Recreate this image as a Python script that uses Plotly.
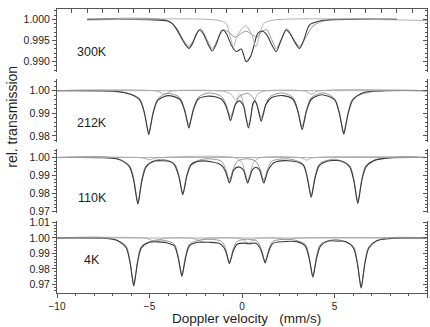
import plotly.graph_objects as go

# ---------------- data ----------------
panel_labels = ["300K", "212K", "110K", "4K"]

# 300K (its own velocity frame, about +-12 mm/s)
v300 = [-10.0, -6.0, -4.8, -4.45, -4.2, -3.9, -3.65, -3.43, -3.2, -2.95,
        -2.74, -2.5, -2.2, -1.92, -1.65, -1.42, -1.24, -1.0, -0.7, -0.37,
        -0.05, 0.27, 0.55, 0.75, 1.02, 1.34, 1.62, 1.92, 2.21, 2.5,
        2.85, 3.12, 3.42, 3.71, 3.98, 4.35, 5.0, 6.0, 10.0]
t300 = [1.0, 0.9999, 0.9996, 0.9988, 0.9975, 0.9955, 0.994, 0.99315, 0.9942, 0.9965,
        0.99747, 0.9966, 0.9942, 0.99252, 0.9942, 0.9966, 0.99747, 0.9966, 0.994, 0.9924,
        0.993, 0.99, 0.9912, 0.9935, 0.9967, 0.9972, 0.9962, 0.994, 0.9924, 0.9948,
        0.99747, 0.9965, 0.9945, 0.99315, 0.995, 0.99865, 0.9996, 0.9999, 1.0]
v300_sext = [-10, -4.8, -4.2, -3.8, -3.43, -3.06, -2.68, -2.3, -1.92, -1.54,
             -1.2, -0.8, -0.45, 0.25, 0.95, 1.3, 1.6, 1.92, 2.21, 2.55,
             2.9, 3.3, 3.71, 4.08, 4.6, 5.5, 10]
t300_sext = [1.0, 0.9997, 0.9978, 0.9952, 0.9937, 0.9955, 0.9978, 0.9955, 0.9931, 0.9955,
             0.9975, 0.9968, 0.9958, 0.9972, 0.9958, 0.9972, 0.9975, 0.9952, 0.9931, 0.9955,
             0.9978, 0.9955, 0.9937, 0.9955, 0.9985, 0.9998, 1.0]
v300_dbl = [-10, -1.6, -1.02, -0.8, -0.55, -0.3, 0.23, 0.65, 0.9, 1.15, 1.4, 2.0, 12]
t300_dbl = [0.9998, 0.9998, 0.999, 0.9965, 0.9935, 0.9962, 0.9985, 0.9962, 0.9935, 0.9965,
            0.999, 0.9998, 0.9997]

# 212K
v212 = [-10.0, -7.0, -6.5, -6.0, -5.54, -5.29, -5.15, -5.04, -4.93, -4.79,
        -4.54, -4.0, -3.37, -3.12, -2.98, -2.87, -2.76, -2.62, -2.37, -1.9,
        -1.4, -1.12, -0.87, -0.73, -0.62, -0.5, -0.35, -0.15, 0.07, 0.22,
        0.35, 0.47, 0.58, 0.69, 0.82, 0.93, 1.04, 1.15, 1.3, 1.6,
        2.2, 2.75, 3.0, 3.14, 3.25, 3.36, 3.5, 3.75, 4.3, 5.0,
        5.25, 5.39, 5.5, 5.61, 5.75, 6.0, 6.5, 7.5, 10.0]
t212 = [1.0, 0.9998, 0.9993, 0.9983, 0.996, 0.9905, 0.9848, 0.9806, 0.9848, 0.9905,
        0.9958, 0.9978, 0.9962, 0.9917, 0.987, 0.9835, 0.987, 0.9917, 0.9962, 0.9975,
        0.9972, 0.9963, 0.9932, 0.9895, 0.9868, 0.9898, 0.994, 0.9955, 0.9935, 0.9878,
        0.9835, 0.988, 0.994, 0.9955, 0.9935, 0.9895, 0.9865, 0.9895, 0.994, 0.997,
        0.9978, 0.9962, 0.9914, 0.9863, 0.9828, 0.9863, 0.9914, 0.9962, 0.9982, 0.996,
        0.9903, 0.9847, 0.9808, 0.9847, 0.9903, 0.996, 0.999, 0.9999, 1.0]
v212_a = [-10, -6.5, -5.54, -5.29, -5.04, -4.79, -4.54, -4.0, -3.37, -3.12,
          -2.87, -2.62, -2.37, -1.8, -1.12, -0.87, -0.62, -0.37, -0.12, 0.3,
          0.54, 0.79, 1.04, 1.29, 1.54, 2.2, 2.75, 3.0, 3.25, 3.5,
          3.75, 4.4, 5.0, 5.25, 5.5, 5.75, 6.0, 7.0, 10]
t212_a = [1.0, 0.9995, 0.9965, 0.991, 0.9815, 0.991, 0.9965, 0.9988, 0.997, 0.9922,
          0.9848, 0.9922, 0.997, 0.999, 0.9975, 0.994, 0.9885, 0.994, 0.9975, 0.9988,
          0.9975, 0.994, 0.9882, 0.994, 0.9975, 0.999, 0.997, 0.992, 0.9842, 0.992,
          0.997, 0.999, 0.9965, 0.9908, 0.9815, 0.9908, 0.9965, 0.9995, 1.0]
v212_b = [-10, -4.6, -4.2, -3.8, -1.0, -0.6, -0.35, -0.1, 0.1, 0.35, 0.6, 0.85, 1.2,
          3.4, 3.75, 4.1, 10]
t212_b = [1.0, 0.9998, 0.9985, 0.9998, 0.9997, 0.9985, 0.996, 0.9985, 0.9935, 0.985,
          0.9935, 0.9985, 0.9998, 0.9998, 0.9984, 0.9998, 1.0]

# 110K
v110 = [-10.0, -7.5, -6.8, -6.53, -6.08, -5.85, -5.74, -5.63, -5.52, -5.41,
        -5.18, -4.73, -4.3, -3.9, -3.65, -3.42, -3.31, -3.2, -3.09, -2.98,
        -2.75, -2.3, -1.6, -1.15, -0.9, -0.79, -0.68, -0.57, -0.45, -0.18,
        0.08, 0.2, 0.31, 0.42, 0.55, 0.75, 0.95, 1.07, 1.18, 1.29,
        1.42, 1.75, 2.5, 3.29, 3.52, 3.63, 3.74, 3.85, 3.96, 4.19,
        4.64, 5.0, 5.36, 5.81, 6.04, 6.15, 6.26, 6.37, 6.48, 6.71,
        7.16, 8.0, 10.0]
t110 = [1.0, 0.9999, 0.9993, 0.9984, 0.9948, 0.987, 0.98, 0.9741, 0.98, 0.987,
        0.9948, 0.998, 0.9982, 0.9978, 0.9959, 0.9896, 0.9841, 0.9793, 0.9841, 0.9896,
        0.9959, 0.998, 0.9975, 0.996, 0.9925, 0.989, 0.9858, 0.989, 0.993, 0.9948,
        0.993, 0.989, 0.9858, 0.989, 0.993, 0.9945, 0.993, 0.989, 0.9858, 0.989,
        0.993, 0.9972, 0.9982, 0.996, 0.989, 0.983, 0.9779, 0.983, 0.989, 0.9956,
        0.9981, 0.9983, 0.9981, 0.9949, 0.9873, 0.9804, 0.9745, 0.9804, 0.9873, 0.9949,
        0.9984, 0.9998, 1.0]
v110_a = [-10, -6.8, -6.08, -5.85, -5.63, -5.41, -5.18, -4.4, -3.65, -3.42,
          -3.2, -2.98, -2.75, -2.0, -1.13, -0.9, -0.68, -0.46, -0.23, 0.25,
          0.73, 0.96, 1.18, 1.40, 1.63, 2.5, 3.29, 3.52, 3.74, 3.96,
          4.19, 5.0, 5.81, 6.04, 6.26, 6.48, 6.71, 7.5, 10]
t110_a = [1.0, 0.9996, 0.9955, 0.988, 0.9752, 0.988, 0.9955, 0.999, 0.9965, 0.9905,
          0.9803, 0.9905, 0.9965, 0.9992, 0.998, 0.994, 0.9875, 0.994, 0.998, 0.9993,
          0.998, 0.994, 0.9875, 0.994, 0.998, 0.9992, 0.9965, 0.99, 0.979, 0.99,
          0.9965, 0.999, 0.9956, 0.9882, 0.9756, 0.9882, 0.9956, 0.9996, 1.0]
v110_b = [-10, -5.4, -5.0, -4.6, -0.3, 0.0, 0.16, 0.31, 0.46, 0.62, 0.9, 3.2, 3.5, 3.8, 10]
t110_b = [1.0, 0.9998, 0.9988, 0.9998, 0.9997, 0.997, 0.992, 0.9872, 0.992, 0.997,
          0.9997, 0.9998, 0.9985, 0.9998, 1.0]

# 4K
v4 = [-10.0, -7.5, -7.0, -6.69, -6.27, -6.06, -5.95, -5.85, -5.75, -5.64,
      -5.43, -5.0, -4.55, -4.09, -3.67, -3.46, -3.35, -3.25, -3.15, -3.04,
      -2.83, -2.4, -1.8, -1.3, -1.1, -0.89, -0.78, -0.68, -0.58, -0.47,
      -0.26, 0.1, 0.4, 0.7, 0.83, 1.04, 1.15, 1.25, 1.35, 1.46,
      1.67, 2.2, 3.0, 3.41, 3.62, 3.73, 3.83, 3.93, 4.04, 4.25,
      4.67, 5.2, 5.6, 6.02, 6.23, 6.34, 6.44, 6.54, 6.65, 6.86,
      7.28, 8.0, 10.0]
t4 = [1.0, 0.9998, 0.9992, 0.9981, 0.9938, 0.9845, 0.9758, 0.969, 0.9758, 0.9845,
      0.9938, 0.9972, 0.9975, 0.997, 0.995, 0.9876, 0.9807, 0.9752, 0.9807, 0.9876,
      0.995, 0.9972, 0.9972, 0.9968, 0.9955, 0.9917, 0.9871, 0.9834, 0.9871, 0.9917,
      0.996, 0.9967, 0.9963, 0.9967, 0.996, 0.9918, 0.9874, 0.9838, 0.9874, 0.9918,
      0.9965, 0.9976, 0.9975, 0.9949, 0.9873, 0.9802, 0.9746, 0.9802, 0.9873, 0.9949,
      0.998, 0.998, 0.9978, 0.9935, 0.9838, 0.9747, 0.9675, 0.9747, 0.9838, 0.9935,
      0.9982, 0.9996, 1.0]
v4_a = [-10, -7.0, -6.27, -6.06, -5.85, -5.64, -5.43, -4.55, -3.67, -3.46,
        -3.25, -3.04, -2.83, -2.0, -1.1, -0.89, -0.68, -0.47, -0.26, 0.3,
        0.83, 1.04, 1.25, 1.46, 1.67, 2.6, 3.41, 3.62, 3.83, 4.04,
        4.25, 5.1, 6.02, 6.23, 6.44, 6.65, 6.86, 7.6, 10]
t4_a = [1.0, 0.9996, 0.9948, 0.9855, 0.97, 0.9855, 0.9948, 0.9988, 0.9962, 0.9888,
        0.9762, 0.9888, 0.9962, 0.9991, 0.9978, 0.993, 0.9845, 0.993, 0.9978, 0.9992,
        0.9978, 0.993, 0.9848, 0.993, 0.9978, 0.9991, 0.996, 0.9885, 0.9756, 0.9885,
        0.996, 0.999, 0.9945, 0.9848, 0.9685, 0.9848, 0.9945, 0.9996, 1.0]
v4_b = [-10, -5.2, -4.7, -4.2, -2.7, -2.3, -1.9, -0.1, 0.15, 0.35, 0.55, 0.8, 2.0, 2.4, 2.8, 10]
t4_b = [1.0, 0.9998, 0.9978, 0.9998, 0.9998, 0.9985, 0.9998, 0.9997, 0.9982, 0.9968,
        0.9982, 0.9997, 0.9998, 0.9988, 0.9998, 1.0]

base_v = [-10.0, 10.0]
base_t = [1.0, 1.0]

# ---------------- figure ----------------
FONT = "Liberation Sans, Arial, sans-serif"
TXT = "#1e1e1e"
AX = "#555555"
DARK = "#3a3a3a"
MID = "#8a8a8a"
LIGHT = "#a8a8a8"

fig = go.Figure()

def line(x, y, xa, ya, color, width):
    fig.add_trace(go.Scatter(x=x, y=y, xaxis=xa, yaxis=ya, mode="lines",
                             line=dict(color=color, width=width, shape="spline", smoothing=0.8),
                             hoverinfo="skip", showlegend=False))

panels = [
    ("x", "y", "y5", [(v300_dbl, t300_dbl, LIGHT), (v300_sext, t300_sext, MID)], (v300, t300)),
    ("x2", "y2", "y6", [(base_v, base_t, LIGHT), (v212_b, t212_b, LIGHT), (v212_a, t212_a, MID)], (v212, t212)),
    ("x3", "y3", "y7", [(base_v, base_t, LIGHT), (v110_b, t110_b, LIGHT), (v110_a, t110_a, MID)], (v110, t110)),
    ("x4", "y4", "y8", [(base_v, base_t, LIGHT), (v4_b, t4_b, LIGHT), (v4_a, t4_a, MID)], (v4, t4)),
]
for xa, ya, yr, comps, tot in panels:
    for i, (cx, cy, col) in enumerate(comps):
        line(cx, cy, xa, yr if i == 0 else ya, col, 0.9)
    line(tot[0], tot[1], xa, ya, DARK, 1.1)

domains = [[0.778, 1.0], [0.532, 0.752], [0.282, 0.507], [0.0, 0.254]]
yranges = [[0.98756, 1.00243], [0.97738, 1.00494], [0.96917, 1.00472], [0.96437, 1.0111]]
ydt = [0.005, 0.01, 0.01, 0.01]
ymin = [0.001, 0.002, 0.002, 0.002]
yfmt = [".3f", ".2f", ".2f", ".2f"]

lay = dict(width=430, height=327, margin=dict(l=57, r=3, t=9, b=34),
           paper_bgcolor="white", plot_bgcolor="white",
           font=dict(family=FONT, size=11, color=TXT), showlegend=False)

lay["xaxis"] = dict(domain=[0, 1], range=[-11.94, 11.94], anchor="y", side="top",
                    showline=True, linecolor=AX, linewidth=1, ticks="inside", tick0=0, dtick=1,
                    ticklen=4, tickcolor=AX, showticklabels=False, showgrid=False, zeroline=False)
lay["xaxis2"] = dict(domain=[0, 1], range=[-10, 10], anchor="y2", visible=False)
lay["xaxis3"] = dict(domain=[0, 1], range=[-10, 10], anchor="y3", visible=False)
lay["xaxis4"] = dict(domain=[0, 1], range=[-10, 10], anchor="y4", showline=True, linecolor=AX,
                     linewidth=1, ticks="outside", tick0=0, dtick=5, ticklen=4, tickcolor=AX,
                     minor=dict(dtick=1, ticks="outside", ticklen=2, tickcolor=AX, showgrid=False),
                     tickfont=dict(size=10, color=TXT, family=FONT), showgrid=False, zeroline=False)

xs = ["x", "x2", "x3", "x4"]
for i in range(4):
    key = "yaxis" if i == 0 else f"yaxis{i+1}"
    lay[key] = dict(domain=domains[i], range=yranges[i], anchor=xs[i], showline=True,
                    linecolor=AX, linewidth=1, ticks="outside", tickmode="linear", tick0=1.0,
                    dtick=ydt[i], ticklen=4, tickcolor=AX, tickformat=yfmt[i],
                    minor=dict(dtick=ymin[i], ticks="outside", ticklen=2, tickcolor=AX, showgrid=False),
                    tickfont=dict(size=10.5, color=TXT, family=FONT),
                    showgrid=False, zeroline=False)
    lay[f"yaxis{i+5}"] = dict(overlaying="y" if i == 0 else f"y{i+1}", side="right", anchor=xs[i],
                              range=yranges[i], showline=True, linecolor=AX, linewidth=1,
                              ticks="inside", tickmode="linear", tick0=1.0, dtick=ydt[i], ticklen=4,
                              tickcolor=AX, showticklabels=False,
                              minor=dict(dtick=ymin[i], ticks="inside", ticklen=2, tickcolor=AX, showgrid=False),
                              showgrid=False, zeroline=False)

label_y = [0.99228, 0.98589, 0.97732, 0.98579]
ann = []
for i, lab in enumerate(panel_labels):
    ann.append(dict(text=lab, xref="paper", x=0.0946, yref="y" if i == 0 else f"y{i+1}",
                    y=label_y[i], showarrow=False, xanchor="center", yanchor="middle",
                    font=dict(size=12.5, color=TXT, family=FONT)))
ann.append(dict(text="rel. transmission", xref="paper", yref="paper", x=-0.122, y=0.62,
                textangle=-90, showarrow=False, xanchor="center", yanchor="middle",
                font=dict(size=14, color=TXT, family=FONT)))
ann.append(dict(text="Doppler velocity\u00a0\u00a0\u00a0(mm/s)", xref="paper", yref="paper",
                x=0.5135, y=-0.0905, showarrow=False, xanchor="center", yanchor="middle",
                font=dict(size=13.5, color=TXT, family=FONT)))
lay["annotations"] = ann

fig.update_layout(**lay)
fig.write_html("out.html", config={"displayModeBar": False},
               post_script="document.body.style.margin='0';document.body.style.padding='0';")
